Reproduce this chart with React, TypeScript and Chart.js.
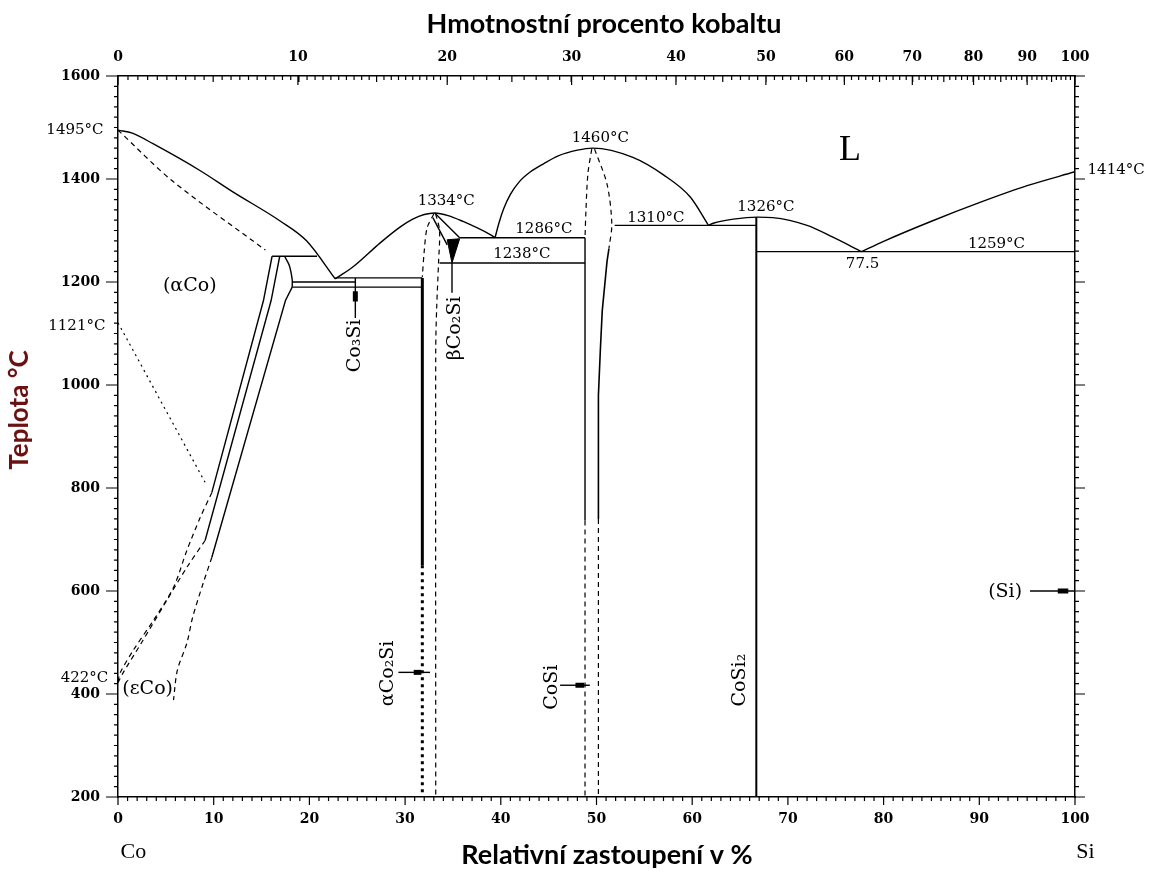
import React, { useEffect, useRef } from "react";
import { Chart, registerables } from "chart.js";
Chart.register(...registerables);

type P = [number, number];

// ---------- axis ticks ----------
const bottomTicks = [0, 10, 20, 30, 40, 50, 60, 70, 80, 90, 100];
const tempTicks = [200, 400, 600, 800, 1000, 1200, 1400, 1600];
const topTickLabels = ["0", "10", "20", "30", "40", "50", "60", "70", "80", "90", "100"];
const topTickAt = [0, 18.8, 34.4, 47.4, 58.3, 67.7, 75.9, 83.0, 89.4, 95.0, 100];

// ---------- liquidus curves ----------
const liquidusCo: P[] = [[0, 1495], [1.5, 1489], [3.7, 1468], [8.6, 1416], [12, 1375], [16.9, 1319], [19.7, 1280], [22.7, 1206]];
const domeCo2Si: P[] = [[22.7, 1206], [24.6, 1230], [27.4, 1276], [29.5, 1307], [30.8, 1322], [32, 1331], [33.1, 1334], [34.5, 1329], [36, 1318], [38.9, 1292], [39.4, 1286]];
const domeCoSi: P[] = [[39.4, 1286], [39.8, 1314], [40.3, 1342], [41.0, 1370], [41.9, 1394], [43.1, 1414], [44.5, 1430], [46.0, 1445], [48.0, 1456], [49.6, 1460], [53.8, 1442], [57, 1408], [59.8, 1365], [61.7, 1310]];
const domeCoSi2: P[] = [[61.7, 1310], [62.2, 1314], [64.3, 1322], [66.8, 1326], [68.4, 1325], [72, 1310], [74.7, 1287], [77.7, 1259]];
const liquidusSi: P[] = [[77.7, 1259], [80, 1279], [85, 1318], [90, 1354], [95, 1387], [100, 1414]];

// ---------- isotherms ----------
const iso1250: P[] = [[16.1, 1250], [20.8, 1250]];
const iso1208: P[] = [[22.7, 1208], [31.8, 1208]];
const iso1200: P[] = [[18.2, 1200], [24.8, 1200]];
const iso1190: P[] = [[18.2, 1190], [31.8, 1190]];
const iso1286: P[] = [[35.7, 1286], [48.8, 1286]];
const iso1238: P[] = [[33.6, 1237], [48.8, 1237]];
const iso1310: P[] = [[51.9, 1310], [66.7, 1310]];
const iso1259: P[] = [[66.7, 1259], [100, 1259]];

// ---------- Co-rich side ----------
const solidusCo: P[] = [[0, 1495], [5.7, 1396], [15.4, 1262]];
const magneticCo: P[] = [[0, 1121], [9.1, 811]];
const coLine1: P[] = [[16.1, 1250], [15.2, 1164], [9.8, 791]];
const coLine2: P[] = [[16.9, 1250], [16.0, 1164], [9.1, 698]];
const coCurve: P[] = [[17.4, 1250], [17.9, 1232], [18.2, 1205], [18.2, 1190]];
const coLine3: P[] = [[18.2, 1190], [17.5, 1164], [9.8, 665]];
const coDash1: P[] = [[9.8, 791], [8.6, 743], [7.2, 679], [5.8, 607], [3.7, 543], [1.6, 485], [0.2, 440], [0, 422]];
const coDash2: P[] = [[9.1, 698], [7.2, 646], [5.1, 582], [2.6, 504], [0.5, 440], [0, 422]];
const coDash3: P[] = [[9.8, 665], [8.9, 615], [7.8, 549], [7.2, 499], [6.2, 446], [5.8, 388]];

// ---------- Co3Si ----------
const co3siStem: P[] = [[24.8, 1208], [24.8, 1130]];
const co3siHead: P[] = [[24.8, 1182], [24.8, 1162]];

// ---------- Co2Si ----------
const co2siSolid: P[] = [[31.8, 1208], [31.8, 650]];
const co2siDotted: P[] = [[31.8, 650], [31.8, 200]];
const co2siDashL: P[] = [[33.0, 1332], [32.3, 1305], [32.0, 1260], [31.8, 1210]];
const co2siDashR: P[] = [[33.2, 1332], [33.6, 1300], [33.5, 1240], [33.3, 1150], [33.2, 1067], [33.2, 200]];
const betaEdge1: P[] = [[33.1, 1334], [35.7, 1286]];
const betaEdge2: P[] = [[32.9, 1325], [34.4, 1272]];
const betaWedge: P[] = [[34.4, 1282], [35.7, 1284], [34.9, 1237], [34.4, 1282]];
const betaStem: P[] = [[34.9, 1237], [34.9, 1179]];
const alphaArrow: P[] = [[29.3, 442], [32.6, 442]];
const alphaHead: P[] = [[30.9, 442], [31.7, 442]];

// ---------- CoSi ----------
const cosiDashL: P[] = [[49.5, 1458], [49.1, 1410], [48.9, 1340], [48.8, 1286]];
const cosiSolidL: P[] = [[48.8, 1286], [48.8, 737]];
const cosiLowL: P[] = [[48.8, 737], [48.8, 200]];
const cosiDashR: P[] = [[49.8, 1458], [51.1, 1390], [51.6, 1313], [51.3, 1265]];
const cosiSolidR: P[] = [[51.3, 1265], [51.1, 1240], [50.6, 1144], [50.4, 1067], [50.2, 980], [50.2, 740]];
const cosiLowR: P[] = [[50.2, 740], [50.2, 200]];
const cosiArrow: P[] = [[46.2, 417], [49.3, 417]];
const cosiHead: P[] = [[47.8, 417], [48.7, 417]];

// ---------- CoSi2 / Si ----------
const cosi2Line: P[] = [[66.7, 1326], [66.7, 200]];
const siArrow: P[] = [[95.3, 600], [100, 600]];
const siHead: P[] = [[98.2, 600], [99.3, 600]];

// ---------- text ----------
const TEMP = "15px 'DejaVu Serif'";
const PHASE = "19px 'DejaVu Serif'";
const annotations: { t: string; x: number; y: number; f: string; r?: boolean }[] = [
  { t: "1495°C", x: -4.5, y: 1495, f: TEMP },
  { t: "1121°C", x: -4.3, y: 1115, f: TEMP },
  { t: "422°C", x: -3.5, y: 431, f: TEMP },
  { t: "(αCo)", x: 7.5, y: 1193, f: PHASE },
  { t: "(εCo)", x: 3.1, y: 410, f: PHASE },
  { t: "L", x: 76.5, y: 1455, f: "36px 'Liberation Serif'" },
  { t: "1334°C", x: 34.3, y: 1358, f: TEMP },
  { t: "1286°C", x: 44.5, y: 1303, f: TEMP },
  { t: "1238°C", x: 42.2, y: 1255, f: TEMP },
  { t: "1460°C", x: 50.4, y: 1480, f: TEMP },
  { t: "1310°C", x: 56.2, y: 1325, f: TEMP },
  { t: "1326°C", x: 67.7, y: 1346, f: TEMP },
  { t: "1259°C", x: 91.8, y: 1274, f: TEMP },
  { t: "77.5", x: 77.8, y: 1235, f: TEMP },
  { t: "1414°C", x: 104.3, y: 1418, f: TEMP },
  { t: "Co₃Si", x: 24.8, y: 1076, f: PHASE, r: true },
  { t: "βCo₂Si", x: 35.2, y: 1110, f: PHASE, r: true },
  { t: "αCo₂Si", x: 28.2, y: 440, f: PHASE, r: true },
  { t: "CoSi", x: 45.4, y: 413, f: PHASE, r: true },
  { t: "CoSi₂", x: 65.0, y: 427, f: PHASE, r: true },
  { t: "(Si)", x: 92.7, y: 597, f: PHASE },
  { t: "Co", x: 1.6, y: 93, f: "22px 'Liberation Serif'" },
  { t: "Si", x: 101.1, y: 93, f: "22px 'Liberation Serif'" },
];

const wtToAt = (w: number) => (100 * (w / 28.086)) / (w / 28.086 + (100 - w) / 58.933);

const mk = (pts: P[], opt: any = {}) => ({
  data: pts.map(([x, y]) => ({ x, y })),
  showLine: true,
  pointRadius: 0,
  borderColor: "#000",
  backgroundColor: "#000",
  borderWidth: 1.4,
  fill: false,
  tension: 0,
  ...opt,
});
const CURVE = { cubicInterpolationMode: "monotone" };
const SOFT = { tension: 0.35 };
const DASH = { borderDash: [5, 4], borderWidth: 1.2 };
const DASHC = { borderDash: [5, 4], borderWidth: 1.2, tension: 0.3 };
const DOT = { borderDash: [2, 4], borderWidth: 1.2 };
const THICK = { borderWidth: 3 };
const HEAD = { borderWidth: 5 };

const decor = {
  id: "decor",
  afterDraw(chart: any) {
    const { ctx, scales } = chart;
    const x = scales.x, y = scales.y;
    const L = 118, R = 1075, T = 76, B = 797;
    ctx.save();
    ctx.strokeStyle = "#000";
    ctx.lineWidth = 1.2;
    ctx.beginPath();
    for (let v = 200; v <= 1600; v += 20) {
      const py = y.getPixelForValue(v);
      const major = v % 200 === 0;
      ctx.moveTo(L, py); ctx.lineTo(L - (major ? 12 : 4), py);
      ctx.moveTo(R, py); ctx.lineTo(R + (major ? 10 : 4), py);
    }
    for (let v = 0; v <= 100; v += 1) {
      const px = x.getPixelForValue(v);
      const major = v % 10 === 0;
      ctx.moveTo(px, B); ctx.lineTo(px, B + (major ? 8 : 4));
    }
    for (const a of topTickAt) {
      const px = x.getPixelForValue(a);
      ctx.moveTo(px, T); ctx.lineTo(px, T + 9);
    }
    for (let w = 0.5; w < 100; w += w < 20 ? 0.5 : 1) {
      const px = x.getPixelForValue(wtToAt(w));
      const mid = w % 5 === 0;
      ctx.moveTo(px, T); ctx.lineTo(px, T + (mid ? 6 : 4));
    }
    ctx.stroke();

    ctx.fillStyle = "#000";
    ctx.textAlign = "center";
    ctx.textBaseline = "middle";
    for (const a of annotations) {
      const px = x.getPixelForValue(a.x), py = y.getPixelForValue(a.y);
      ctx.font = a.f;
      if (a.r) {
        ctx.save(); ctx.translate(px, py); ctx.rotate(-Math.PI / 2);
        ctx.fillText(a.t, 0, 0); ctx.restore();
      } else ctx.fillText(a.t, px, py);
    }
    ctx.font = "bold 27px Lato";
    ctx.fillText("Hmotnostní procento kobaltu", 604, 24);
    ctx.fillText("Relativní zastoupení v %", 607, 855);
    ctx.save();
    ctx.translate(20, 410); ctx.rotate(-Math.PI / 2);
    ctx.fillStyle = "#6b1111";
    ctx.font = "bold 26px Lato";
    ctx.fillText("Teplota °C", 0, 0);
    ctx.restore();
    ctx.restore();
  },
};

export default function App() {
  const ref = useRef<HTMLCanvasElement>(null);
  useEffect(() => {
    if (!ref.current) return;
    const tickFont = { family: "DejaVu Serif", size: 14, weight: "bold" as const };
    const border = { display: true, color: "#000", width: 1.5 };
    const plain = (v: any) => String(v);
    const chart = new Chart(ref.current, {
      type: "scatter",
      data: {
        datasets: [
          mk(liquidusCo, CURVE), mk(domeCo2Si, CURVE), mk(domeCoSi, CURVE), mk(domeCoSi2, CURVE), mk(liquidusSi, CURVE),
          mk(iso1250), mk(iso1208), mk(iso1200), mk(iso1190), mk(iso1286), mk(iso1238), mk(iso1310), mk(iso1259),
          mk(solidusCo, DASHC), mk(magneticCo, DOT),
          mk(coLine1), mk(coLine2), mk(coCurve, SOFT), mk(coLine3),
          mk(coDash1, DASHC), mk(coDash2, DASHC), mk(coDash3, DASHC),
          mk(co3siStem), mk(co3siHead, HEAD),
          mk(co2siSolid, THICK), mk(co2siDotted, { borderWidth: 3, borderDash: [3, 4] }),
          mk(co2siDashL, DASHC), mk(co2siDashR, DASHC),
          mk(betaEdge1), mk(betaEdge2), mk(betaWedge, { fill: "shape", borderWidth: 1 }), mk(betaStem),
          mk(alphaArrow), mk(alphaHead, HEAD),
          mk(cosiDashL, DASHC), mk(cosiSolidL), mk(cosiLowL, DASH),
          mk(cosiDashR, DASHC), mk(cosiSolidR, { borderWidth: 1.6 }), mk(cosiLowR, DASH),
          mk(cosiArrow), mk(cosiHead, HEAD),
          mk(cosi2Line, { borderWidth: 2 }), mk(siArrow), mk(siHead, HEAD),
        ] as any,
      },
      options: {
        animation: false,
        responsive: false,
        maintainAspectRatio: false,
        layout: { padding: 0 },
        plugins: { legend: { display: false }, tooltip: { enabled: false } },
        scales: {
          x: {
            type: "linear", position: "bottom", min: 0, max: 100,
            afterBuildTicks: (s: any) => { s.ticks = bottomTicks.map((v) => ({ value: v })); },
            ticks: { autoSkip: false, maxRotation: 0, padding: 14, font: tickFont, color: "#000", callback: plain },
            grid: { display: false, drawTicks: false }, border,
            afterFit: (s: any) => { s.height = 76; },
          },
          xTop: {
            type: "linear", position: "top", min: 0, max: 100,
            afterBuildTicks: (s: any) => { s.ticks = topTickAt.map((v) => ({ value: v })); },
            ticks: { autoSkip: false, maxRotation: 0, padding: 10, font: tickFont, color: "#000", callback: (_v: any, i: number) => topTickLabels[i] },
            grid: { display: false, drawTicks: false }, border,
            afterFit: (s: any) => { s.height = 76; },
          },
          y: {
            type: "linear", position: "left", min: 200, max: 1600,
            afterBuildTicks: (s: any) => { s.ticks = tempTicks.map((v) => ({ value: v })); },
            ticks: { padding: 18, font: tickFont, color: "#000", callback: plain },
            grid: { display: false, drawTicks: false }, border,
            afterFit: (s: any) => { s.width = 118; },
          },
          y2: {
            type: "linear", position: "right", min: 200, max: 1600,
            ticks: { display: false },
            grid: { display: false, drawTicks: false }, border,
            afterFit: (s: any) => { s.width = 76; },
          },
        } as any,
      },
      plugins: [decor],
    });
    return () => chart.destroy();
  }, []);
  return (
    <div style={{ position: "fixed", left: 0, top: 0, width: 1151, height: 873, background: "#fff" }}>
      <canvas ref={ref} width={1151} height={873} style={{ display: "block" }} />
    </div>
  );
}
